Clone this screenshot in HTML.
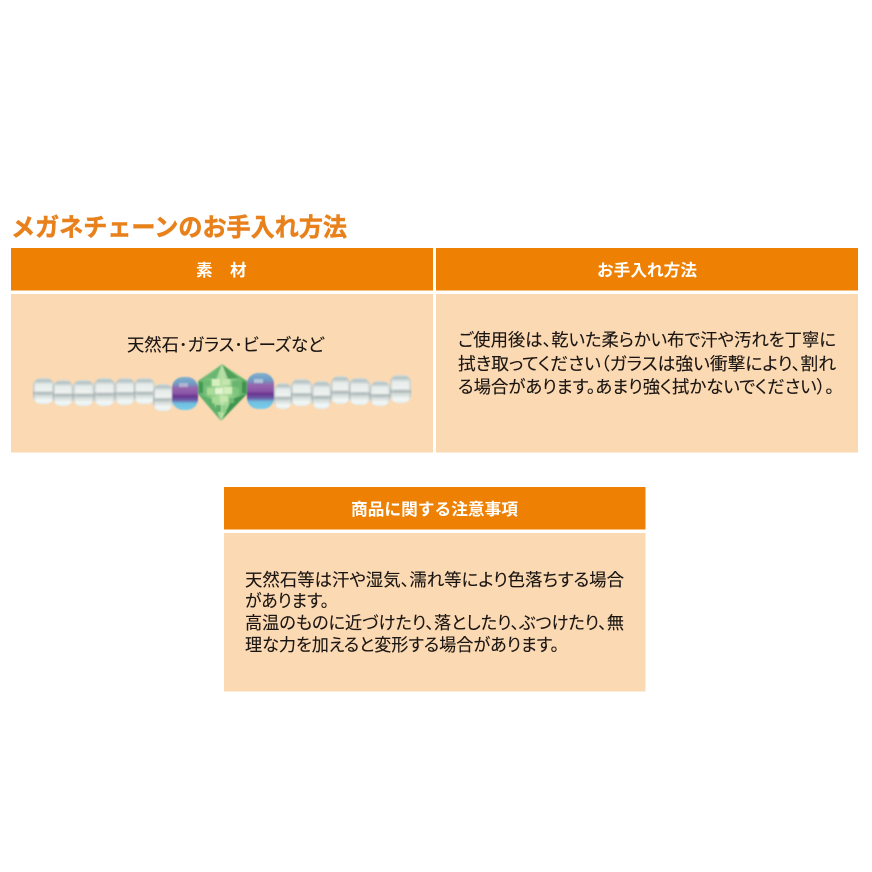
<!DOCTYPE html>
<html lang="ja"><head><meta charset="utf-8"><title>メガネチェーンのお手入れ方法</title>
<style>
html,body{margin:0;padding:0;background:#fff}
svg{display:block}
text{font-family:"Liberation Sans","Noto Sans CJK JP",sans-serif;font-feature-settings:"palt"}
.b{font-size:17.4px;fill:#1a1512;stroke:#1a1512;stroke-width:.12px}
.h{font-size:16.6px;font-weight:700;fill:#fff}
</style></head><body>
<svg width="872" height="872" viewBox="0 0 872 872" xmlns="http://www.w3.org/2000/svg">
<defs>
<linearGradient id="clear" x1="0" y1="0" x2="0" y2="1">
<stop offset="0" stop-color="#d3e0df"/><stop offset=".1" stop-color="#b3c1c2"/><stop offset=".25" stop-color="#e6ecea"/><stop offset=".48" stop-color="#eef2ef"/><stop offset=".58" stop-color="#aab6b6"/><stop offset=".68" stop-color="#d3dbd9"/><stop offset=".86" stop-color="#f3f8f7"/><stop offset="1" stop-color="#e3edef"/>
</linearGradient>
<linearGradient id="side" x1="0" y1="0" x2="1" y2="0">
<stop offset="0" stop-color="#8f9c9c" stop-opacity=".55"/><stop offset=".2" stop-color="#fff" stop-opacity="0"/><stop offset=".8" stop-color="#fff" stop-opacity="0"/><stop offset="1" stop-color="#8f9c9c" stop-opacity=".45"/>
</linearGradient>
<linearGradient id="pur" x1="0" y1="0" x2="0" y2="1">
<stop offset="0" stop-color="#7fb0cf"/><stop offset=".2" stop-color="#6f9cc4"/><stop offset=".33" stop-color="#9567ad"/><stop offset=".5" stop-color="#8a55a6"/><stop offset=".58" stop-color="#6b3290"/><stop offset=".7" stop-color="#6a5fa8"/><stop offset=".8" stop-color="#6fbfe0"/><stop offset="1" stop-color="#7accea"/>
</linearGradient>
<linearGradient id="gr" x1="0" y1="0" x2="1" y2="0">
<stop offset="0" stop-color="#57a964"/><stop offset=".3" stop-color="#8bcb86"/><stop offset=".5" stop-color="#b9e0a8"/><stop offset=".7" stop-color="#86c981"/><stop offset="1" stop-color="#4a9f59"/>
</linearGradient>
<clipPath id="cr"><polygon points="222,364 247,381 247,394 221,421 198,394 198,381"/></clipPath>
<filter id="s" x="-10%" y="-10%" width="120%" height="120%"><feGaussianBlur stdDeviation=".7"/></filter>
</defs>

<rect width="872" height="872" fill="#fff"/>

<text x="11" y="236" font-size="25" font-weight="700" fill="#e8811c" stroke="#e8811c" stroke-width=".5" textLength="336" lengthAdjust="spacingAndGlyphs" style="font-feature-settings:normal">メガネチェーンのお手入れ方法</text>

<rect x="11" y="248" width="422" height="42.5" fill="#ee8003"/>
<rect x="436" y="248" width="422" height="42.5" fill="#ee8003"/>
<rect x="11" y="294" width="422" height="158.5" fill="#fbd9b3"/>
<rect x="436" y="294" width="422" height="158.5" fill="#fbd9b3"/>
<rect x="224" y="487" width="421.5" height="42.5" fill="#ee8003"/>
<rect x="224" y="533" width="421.5" height="158.5" fill="#fbd9b3"/>

<text class="h" x="196" y="276">素</text>
<text class="h" x="230" y="276">材</text>
<text class="h" x="597" y="276" textLength="100" lengthAdjust="spacingAndGlyphs" style="font-feature-settings:normal">お手入れ方法</text>
<text class="h" x="351" y="515" textLength="167" lengthAdjust="spacingAndGlyphs" style="font-feature-settings:normal">商品に関する注意事項</text>

<text class="b" x="127" y="351" textLength="197" lengthAdjust="spacingAndGlyphs">天然石･ガラス･ビーズなど</text>

<text class="b" x="458" y="346" textLength="378" lengthAdjust="spacingAndGlyphs">ご使用後は、乾いた柔らかい布で汗や汚れを丁寧に</text>
<text class="b" x="458" y="370" textLength="378" lengthAdjust="spacingAndGlyphs">拭き取ってください（ガラスは強い衝撃により、割れ</text>
<text class="b" x="458" y="393" textLength="376" lengthAdjust="spacingAndGlyphs">る場合があります。あまり強く拭かないでください）。</text>

<text class="b" x="245" y="586" textLength="379" lengthAdjust="spacingAndGlyphs">天然石等は汗や湿気、濡れ等により色落ちする場合</text>
<text class="b" x="245" y="607" textLength="84" lengthAdjust="spacingAndGlyphs">があります。</text>
<text class="b" x="245" y="629" textLength="379" lengthAdjust="spacingAndGlyphs">高温のものに近づけたり、落としたり、ぶつけたり、無</text>
<text class="b" x="245" y="651" textLength="314" lengthAdjust="spacingAndGlyphs">理な力を加えると変形する場合があります。</text>

<g filter="url(#s)">
<g id="beads" fill="url(#clear)">
<rect x="33" y="378" width="21" height="26" rx="8"/>
<rect x="53" y="380" width="20" height="26" rx="8"/>
<rect x="73" y="380" width="21" height="26" rx="8"/>
<rect x="94" y="378" width="21" height="28" rx="8"/>
<rect x="115" y="378" width="20" height="27" rx="8"/>
<rect x="134" y="378" width="21" height="26" rx="8"/>
<rect x="153" y="384" width="20" height="27" rx="8"/>
<rect x="274" y="383" width="18" height="26" rx="8"/>
<rect x="291" y="379" width="21" height="27" rx="8"/>
<rect x="312" y="381" width="19" height="28" rx="8"/>
<rect x="331" y="376" width="19" height="28" rx="8"/>
<rect x="349" y="378" width="21" height="27" rx="8"/>
<rect x="370" y="381" width="20" height="25" rx="8"/>
<rect x="390" y="375" width="21" height="28" rx="8"/>
</g>
<g fill="url(#side)">
<rect x="33" y="378" width="21" height="26" rx="8"/>
<rect x="53" y="380" width="20" height="26" rx="8"/>
<rect x="73" y="380" width="21" height="26" rx="8"/>
<rect x="94" y="378" width="21" height="28" rx="8"/>
<rect x="115" y="378" width="20" height="27" rx="8"/>
<rect x="134" y="378" width="21" height="26" rx="8"/>
<rect x="153" y="384" width="20" height="27" rx="8"/>
<rect x="274" y="383" width="18" height="26" rx="8"/>
<rect x="291" y="379" width="21" height="27" rx="8"/>
<rect x="312" y="381" width="19" height="28" rx="8"/>
<rect x="331" y="376" width="19" height="28" rx="8"/>
<rect x="349" y="378" width="21" height="27" rx="8"/>
<rect x="370" y="381" width="20" height="25" rx="8"/>
<rect x="390" y="375" width="21" height="28" rx="8"/>
</g>
<rect x="172" y="377" width="26" height="33" rx="11" fill="url(#pur)"/>
<rect x="247" y="373" width="27" height="36" rx="11" fill="url(#pur)"/>
<rect x="179" y="383" width="9" height="4" fill="#c9c4dc" opacity=".7"/>
<rect x="254" y="379" width="9" height="4" fill="#c9d6e6" opacity=".7"/>
<g clip-path="url(#cr)">
<rect x="195" y="362" width="55" height="62" fill="url(#gr)"/>
<polygon points="222,364 205,378 216,379" fill="#6ab672"/>
<polygon points="222,364 239,378 228,379" fill="#4f9f5a"/>
<polygon points="198,394 212,399 221,421" fill="#5fb06a"/>
<polygon points="247,394 232,399 221,421" fill="#3f9650"/>
<rect x="204" y="380" width="7" height="6" fill="#6dbb72"/>
<rect x="212" y="379" width="8" height="7" fill="#d5efbe"/>
<rect x="222" y="379" width="8" height="6" fill="#c2e6ac"/>
<rect x="232" y="381" width="7" height="6" fill="#68b56f"/>
<rect x="207" y="388" width="7" height="7" fill="#a9dc99"/>
<rect x="215" y="388" width="8" height="6" fill="#e3f5d0"/>
<rect x="224" y="387" width="8" height="7" fill="#d4efbd"/>
<rect x="233" y="389" width="6" height="6" fill="#7fc67e"/>
<rect x="212" y="397" width="7" height="6" fill="#a7da97"/>
<rect x="220" y="396" width="8" height="6" fill="#c4e8ae"/>
<rect x="229" y="398" width="5" height="5" fill="#70bc74"/>
<rect x="216" y="405" width="5" height="7" fill="#5dac66"/>
<rect x="222" y="405" width="4" height="8" fill="#8ed08a"/>
<rect x="199" y="382" width="4" height="11" fill="#419a52"/>
<rect x="242" y="382" width="4" height="11" fill="#3c934c"/>
</g>
</g>
</svg>
</body></html>
